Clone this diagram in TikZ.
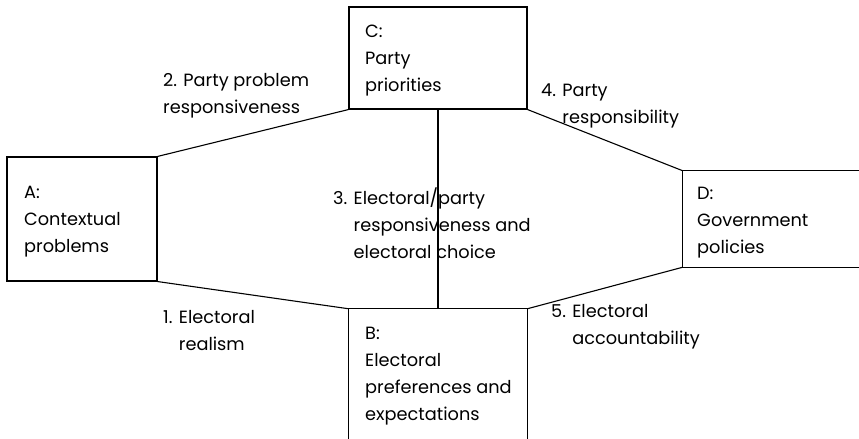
\documentclass[tikz,border=0pt]{standalone}
\usepackage{fontspec}
\setmainfont{Poppins}
\newcommand\mlines[1]{\begin{tabular}[t]{@{}l@{}}#1\end{tabular}}
\begin{document}
\begin{tikzpicture}[x=1bp,y=-1bp,
  box/.style={draw=black,line width=1.1bp,minimum width=#1,inner sep=0pt},
  hid/.style={inner sep=0pt,minimum width=#1},
  edge/.style={draw=black,line width=1.1bp},
  txt/.style={anchor=base west,inner sep=0pt,font=\fontsize{17.8}{27}\selectfont}]
\useasboundingbox (0,0) rectangle (859,439);
% boxes
\node[box=150bp,minimum height=124bp] (A) at (82,219) {};
\node[box=178bp,minimum height=102bp] (C) at (438,58) {};
\node[hid=176bp,minimum height=96bp] (D) at (771,219) {};
\node[hid=178bp,minimum height=130bp] (B) at (438,374) {};
\draw[edge] (D.north east) -- (D.north west) -- (D.south west) -- (D.south east);
\draw[edge] (B.south west) -- (B.north west) -- (B.north east) -- (B.south east);
% connectors
\draw[edge] (A.north east) -- (C.south west);
\draw[edge] (A.south east) -- (B.north west);
\draw[edge] (C.south east) -- (D.north west);
\draw[edge] (B.north east) -- (D.south west);
\draw[edge] (C.south) -- (B.north);
% box texts
\node[txt] (tA) at (24,199) {\mlines{A:\\Contextual\\problems}};
\node[txt] (tC) at (365,38) {\mlines{C:\\Party\\priorities}};
\node[txt] (tD) at (697,200) {\mlines{D:\\Government\\policies}};
\node[txt] (tB) at (365,340) {\mlines{B:\\Electoral\\preferences and\\expectations}};
% connector labels
\node[txt] (l2) at (163,87) {\mlines{2. Party problem\\responsiveness}};
\node[txt] (l4) at (541,97) {\mlines{4. Party\\\phantom{4. }responsibility}};
\node[txt] (l3) at (333,205) {\mlines{3. Electoral/party\\\phantom{3. }responsiveness and\\\phantom{3. }electoral choice}};
\node[txt] (l1) at (163,324) {\mlines{1. Electoral\\\phantom{1. }realism}};
\node[txt] (l5) at (551,318) {\mlines{5. Electoral\\\phantom{5. }accountability}};
\end{tikzpicture}
\end{document}
